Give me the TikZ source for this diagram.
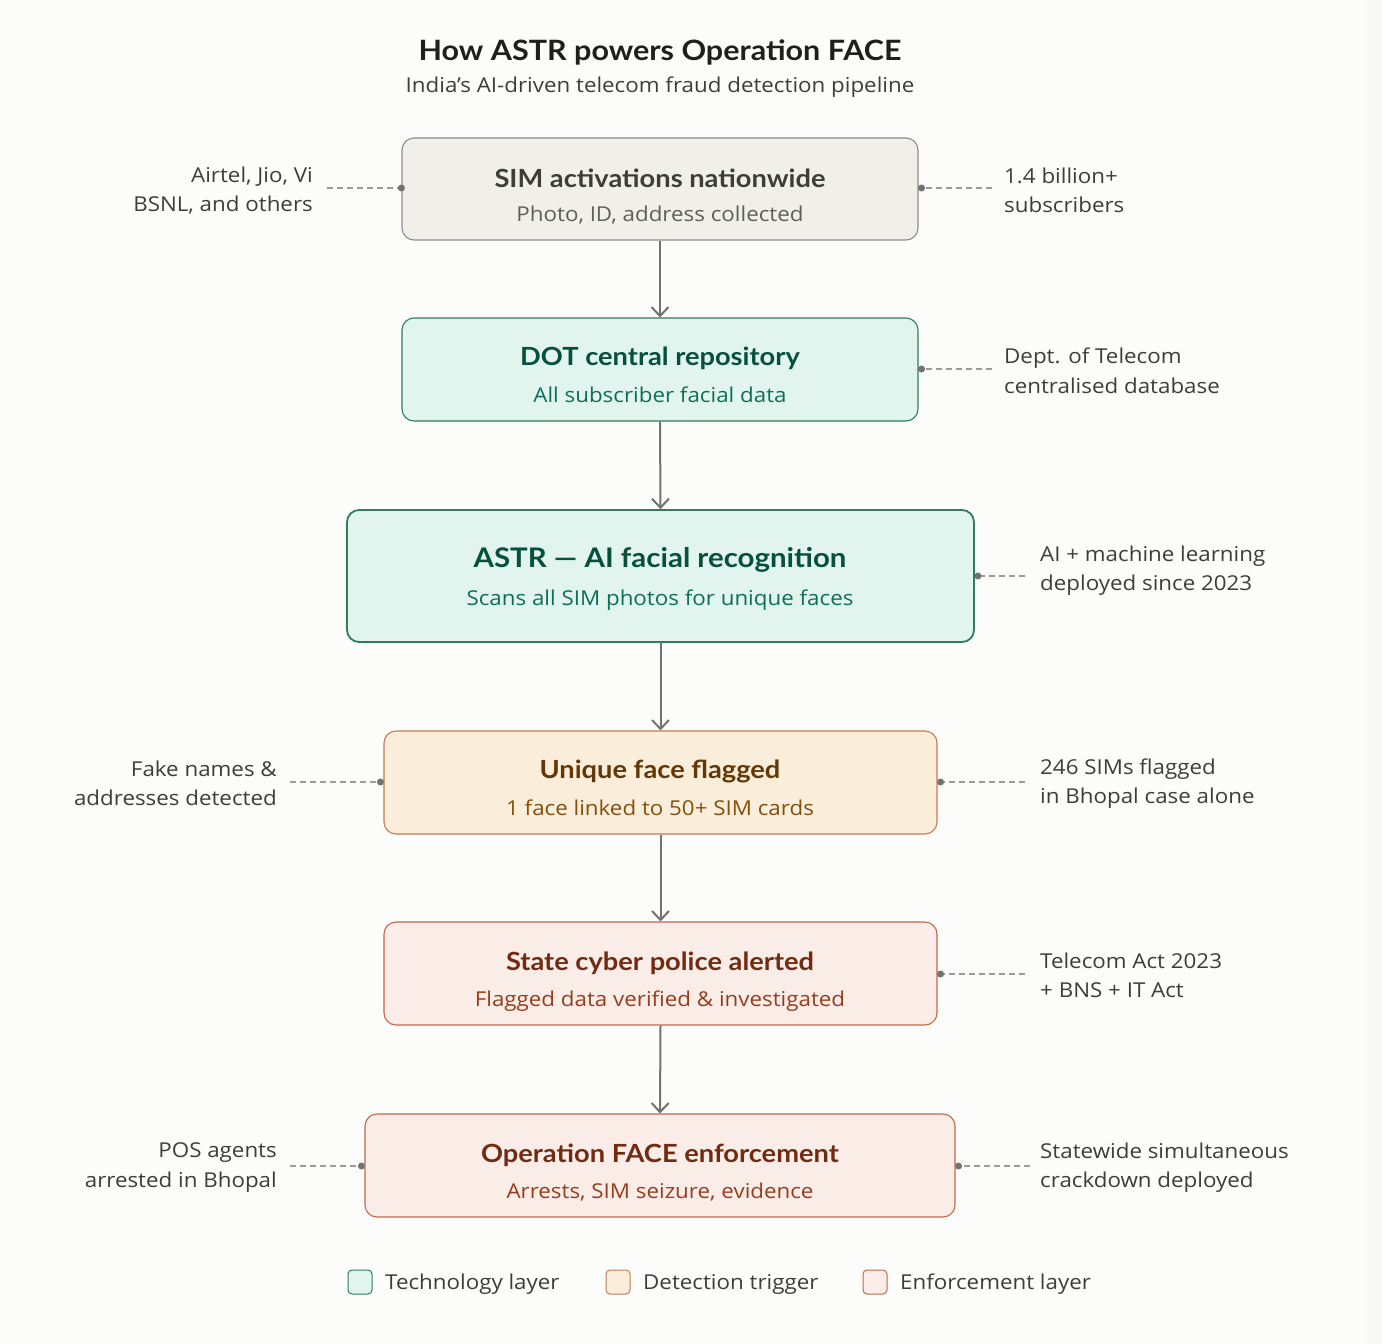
\documentclass[tikz,border=0pt]{standalone}
\usepackage{fontspec}
\setmainfont{Open Sans}[FakeStretch=1.09]
\newfontfamily\ttlfont{Lato}[FakeStretch=1.09]
\usetikzlibrary{arrows.meta}
\definecolor{bgc}{HTML}{FCFCFA}
\definecolor{bgstrip}{HTML}{F8F8F6}
\definecolor{txt}{HTML}{3D3D3A}
\definecolor{txtsub}{HTML}{5F5E5A}
\definecolor{grayfill}{HTML}{F1EFEA}
\definecolor{graydraw}{HTML}{8C8B86}
\definecolor{tealfill}{HTML}{E1F5EE}
\definecolor{tealdraw}{HTML}{2E7D63}
\definecolor{tealtitle}{HTML}{06503D}
\definecolor{tealsub}{HTML}{0F6E56}
\definecolor{amberfill}{HTML}{FAEEDA}
\definecolor{amberdraw}{HTML}{C27C55}
\definecolor{ambertitle}{HTML}{633806}
\definecolor{ambersub}{HTML}{854F0B}
\definecolor{coralfill}{HTML}{FAECE7}
\definecolor{coraldraw}{HTML}{C0694A}
\definecolor{coraltitle}{HTML}{712B13}
\definecolor{coralsub}{HTML}{993C1D}
\definecolor{arrowc}{HTML}{73726C}
\definecolor{dashc}{HTML}{9C9A92}
\tikzset{
  box/.style={rounded corners=12pt, line width=1.1pt, inner sep=0pt},
  graybox/.style={box, fill=grayfill, draw=graydraw},
  tealbox/.style={box, fill=tealfill, draw=tealdraw},
  amberbox/.style={box, fill=amberfill, draw=amberdraw},
  coralbox/.style={box, fill=coralfill, draw=coraldraw},
  ttl/.style={inner sep=0pt, font=\ttlfont\fontsize{25}{30}\selectfont\bfseries},
  sub/.style={inner sep=0pt, font=\fontsize{20.5}{25}\selectfont},
  note/.style={inner sep=0pt, font=\fontsize{20.5}{29.5}\selectfont, text=txt},
  noteL/.style={note, align=right, anchor=east},
  noteR/.style={note, align=left, anchor=west},
  flow/.style={draw=arrowc, line width=2pt, -{Straight Barb[length=9pt, width=17pt, line width=2pt]}},
  leader/.style={draw=dashc, line width=1.3pt, dash pattern=on 6pt off 4pt},
  dotc/.style={circle, fill=arrowc, inner sep=0pt, minimum size=7pt},
  legsq/.style={rounded corners=4pt, line width=1pt, minimum width=24pt, minimum height=24pt, inner sep=0pt},
  legtxt/.style={inner sep=0pt, anchor=west, font=\fontsize{20.5}{25}\selectfont, text=txt}
}
\begin{document}
\begin{tikzpicture}[x=1pt, y=-1pt]
\fill[bgc] (0,0) rectangle (1382,1344);
\fill[bgstrip] (1367,0) rectangle (1382,1344);
\useasboundingbox (0,0) rectangle (1382,1344);

% title
\node[inner sep=0pt, text=black!88, font=\ttlfont\fontsize{28}{34}\selectfont\bfseries] (title) at (660,52) {How ASTR powers Operation FACE};
\node[inner sep=0pt, text=txt, font=\fontsize{20.5}{25}\selectfont] (subtitle) at (660,87) {India's AI-driven telecom fraud detection pipeline};

% boxes
\node[graybox, minimum width=516pt, minimum height=102pt] (b1) at (660,189) {};
\node[ttl, text=txt] (b1t) at (660,178) {SIM activations nationwide};
\node[sub, text=txtsub] (b1s) at (660,215.5) {Photo, ID, address collected};

\node[tealbox, minimum width=516pt, minimum height=103pt] (b2) at (660,369.5) {};
\node[ttl, text=tealtitle] (b2t) at (660,358) {DOT central repository};
\node[sub, text=tealsub] (b2s) at (660,395) {All subscriber facial data};

\node[tealbox, line width=1.8pt, minimum width=627pt, minimum height=132pt] (b3) at (660.5,576) {};
\node[ttl, font=\ttlfont\fontsize{27}{33}\selectfont\bfseries, text=tealtitle] (b3t) at (660,559.5) {ASTR — AI facial recognition};
\node[sub, text=tealsub] (b3s) at (660,600.5) {Scans all SIM photos for unique faces};

\node[amberbox, minimum width=553pt, minimum height=103pt] (b4) at (660.5,782.5) {};
\node[ttl, text=ambertitle] (b4t) at (660,771) {Unique face flagged};
\node[sub, text=ambersub] (b4s) at (660,808) {1 face linked to 50+ SIM cards};

\node[coralbox, minimum width=553pt, minimum height=103pt] (b5) at (660.5,973.5) {};
\node[ttl, text=coraltitle] (b5t) at (660,963) {State cyber police alerted};
\node[sub, text=coralsub] (b5s) at (660,1001) {Flagged data verified \& investigated};

\node[coralbox, minimum width=590pt, minimum height=103pt] (b6) at (660,1165.5) {};
\node[ttl, text=coraltitle] (b6t) at (660,1155) {Operation FACE enforcement};
\node[sub, text=coralsub] (b6s) at (660,1192.5) {Arrests, SIM seizure, evidence};

% flow arrows
\draw[flow] (b1.south) -- (b2.north);
\draw[flow] (b2.south) -- (b3.north);
\draw[flow] (b3.south) -- (b4.north);
\draw[flow] (b4.south) -- (b5.north);
\draw[flow] (b5.south) -- (b6.north);

% annotations
\node[noteL] (n1l) at (313,190.5) {Airtel, Jio, Vi\\BSNL, and others};
\node[noteR] (n1r) at (1004,190.5) {1.4 billion+\\subscribers};
\node[noteR] (n2r) at (1004,371) {Dept. of Telecom\\centralised database};
\node[noteR] (n3r) at (1040,570.5) {AI + machine learning\\deployed since 2023};
\node[noteL] (n4l) at (277,783.5) {Fake names \&\\addresses detected};
\node[noteR] (n4r) at (1040,783.5) {246 SIMs flagged\\in Bhopal case alone};
\node[noteR] (n5r) at (1040,975.5) {Telecom Act 2023\\+ BNS + IT Act};
\node[noteL] (n6l) at (277,1167.5) {POS agents\\arrested in Bhopal};
\node[noteR] (n6r) at (1040,1167.5) {Statewide simultaneous\\crackdown deployed};

% leader lines
\coordinate (e1l) at (327,188);
\coordinate (e1r) at (992,188);
\coordinate (e2r) at (992,369);
\coordinate (e3r) at (1025,576);
\coordinate (e4l) at (290,782);
\coordinate (e4r) at (1025,782);
\coordinate (e5r) at (1025,974);
\coordinate (e6l) at (290,1166);
\coordinate (e6r) at (1030,1166);

\draw[leader] (e1l) -- (b1.west |- e1l) node[dotc, pos=1] (d1l) {};
\draw[leader] (e1r) -- ([xshift=3pt]b1.east |- e1r) node[dotc, pos=1] (d1r) {};
\draw[leader] (e2r) -- ([xshift=3pt]b2.east |- e2r) node[dotc, pos=1] (d2r) {};
\draw[leader] (e3r) -- ([xshift=3pt]b3.east |- e3r) node[dotc, pos=1] (d3r) {};
\draw[leader] (e4l) -- ([xshift=-3pt]b4.west |- e4l) node[dotc, pos=1] (d4l) {};
\draw[leader] (e4r) -- ([xshift=3pt]b4.east |- e4r) node[dotc, pos=1] (d4r) {};
\draw[leader] (e5r) -- ([xshift=3pt]b5.east |- e5r) node[dotc, pos=1] (d5r) {};
\draw[leader] (e6l) -- ([xshift=-3pt]b6.west |- e6l) node[dotc, pos=1] (d6l) {};
\draw[leader] (e6r) -- ([xshift=3pt]b6.east |- e6r) node[dotc, pos=1] (d6r) {};

% legend
\node[legsq, fill=tealfill, draw=tealdraw] (lg1) at (360,1282) {};
\node[legtxt] (lt1) at (385,1284) {Technology layer};
\node[legsq, fill=amberfill, draw=amberdraw] (lg2) at (618,1282) {};
\node[legtxt] (lt2) at (643,1284) {Detection trigger};
\node[legsq, fill=coralfill, draw=coraldraw] (lg3) at (875,1282) {};
\node[legtxt] (lt3) at (900,1284) {Enforcement layer};
\end{tikzpicture}
\end{document}
